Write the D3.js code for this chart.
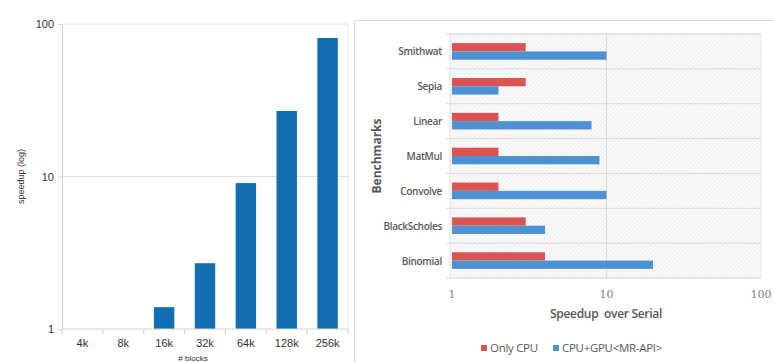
<!DOCTYPE html>
<html>
<head>
<meta charset="utf-8">
<script src="https://cdn.jsdelivr.net/npm/d3@7"></script>
<style>
  body { margin: 0; background: #fff; }
  svg { display: block; }
</style>
</head>
<body>
<figure id="speedups" style="margin:0"></figure>
<script>
// ---- data: left chart (speedup vs blocks)
var blockSizes = ["4k", "8k", "16k", "32k", "64k", "128k", "256k"];
var blockSpeedup = [1, 1, 1.39, 2.7, 9.05, 26.9, 81];

// ---- data: right chart (benchmarks)
var benchmarks = ["Smithwat", "Sepia", "Linear", "MatMul", "Convolve", "BlackScholes", "Binomial"];
var onlyCpu = [3, 3, 2, 2, 2, 3, 4];
var cpuGpu = [10, 2, 8, 9, 10, 4, 20];
var seriesNames = ["Only CPU", "CPU+GPU<MR-API>"];
var seriesColors = ["#dc5452", "#4c92d3"];
var logTicks = [1, 10, 100];

var W = 773, H = 362;
var svg = d3.select("figure#speedups")
  .append("svg")
  .attr("width", W)
  .attr("height", H);

// ================= left chart =================
var m1 = {left: 62, right: 348, top: 24, bottom: 329};
var x1 = d3.scaleBand()
  .domain(blockSizes)
  .range([m1.left, m1.right])
  .paddingInner(0.5)
  .paddingOuter(0.25);
var y1 = d3.scaleLog()
  .domain([1, 100])
  .range([m1.bottom, m1.top]);

var left = svg.append("g");

// gridlines
left.append("g")
  .selectAll("line")
  .data([10, 100])
  .enter().append("line")
  .attr("x1", m1.left).attr("x2", m1.right)
  .attr("y1", d => y1(d)).attr("y2", d => y1(d))
  .attr("stroke", "#e0e0e0");
// right border of plot box
left.append("line")
  .attr("x1", m1.right).attr("x2", m1.right)
  .attr("y1", m1.top).attr("y2", m1.bottom)
  .attr("stroke", "#e6e6e6");

left.selectAll("rect")
  .data(blockSpeedup)
  .enter().append("rect")
  .attr("x", (d, i) => x1(blockSizes[i]))
  .attr("y", d => y1(d))
  .attr("width", x1.bandwidth())
  .attr("height", d => y1(1) - y1(d))
  .attr("fill", "#106eb1");

// y axis
left.append("g")
  .attr("transform", "translate(" + m1.left + ",0)")
  .call(d3.axisLeft(y1).tickValues(logTicks).tickFormat(d3.format("d")).tickSize(4).tickPadding(4))
  .call(g => g.selectAll("line, path").attr("stroke", "#d4d4d4"))
  .call(g => g.selectAll("text").attr("fill", "#333").style("font", "11px 'Liberation Sans', Arial, sans-serif"));

// x axis (band boundary ticks)
var xAx = left.append("g")
  .attr("transform", "translate(0," + m1.bottom + ")");
xAx.append("line")
  .attr("x1", m1.left).attr("x2", m1.right)
  .attr("stroke", "#d4d4d4");
var step = x1.step();
xAx.selectAll("line.sep")
  .data(d3.range(blockSizes.length + 1))
  .enter().append("line")
  .attr("class", "sep")
  .attr("x1", i => m1.left + i * step).attr("x2", i => m1.left + i * step)
  .attr("y1", 0).attr("y2", 5)
  .attr("stroke", "#d4d4d4");
xAx.selectAll("text")
  .data(blockSizes)
  .enter().append("text")
  .attr("x", d => x1(d) + x1.bandwidth() / 2)
  .attr("y", 18)
  .attr("text-anchor", "middle")
  .attr("fill", "#333")
  .style("font", "11px 'Liberation Sans', Arial, sans-serif")
  .text(d => d);

left.append("text")
  .attr("transform", "translate(24," + ((m1.top + m1.bottom) / 2) + ") rotate(-90)")
  .attr("text-anchor", "middle")
  .attr("fill", "#333")
  .style("font", "9px 'Liberation Sans', Arial, sans-serif")
  .text("speedup (log)");
left.append("text")
  .attr("x", 193).attr("y", 361)
  .attr("text-anchor", "middle")
  .attr("fill", "#333")
  .style("font", "8px 'Liberation Sans', Arial, sans-serif")
  .text("# blocks");

// ================= right chart =================
// panel frame
svg.append("path")
  .attr("d", "M354.5," + H + "V20.5H" + W)
  .attr("fill", "none")
  .attr("stroke", "#d9d9d9");

var m2 = {left: 452, right: 761, top: 34, bottom: 278};
var x2 = d3.scaleLog()
  .domain([1, 100])
  .range([m2.left, m2.right]);
var y2 = d3.scaleBand()
  .domain(benchmarks)
  .range([m2.top, m2.bottom]);
var yInner = d3.scaleBand()
  .domain(seriesNames)
  .range([0, y2.bandwidth()])
  .paddingInner(0)
  .paddingOuter(1.1);

var defs = svg.append("defs");
var pat = defs.append("pattern")
  .attr("id", "hatch")
  .attr("patternUnits", "userSpaceOnUse")
  .attr("width", 3).attr("height", 3)
  .attr("patternTransform", "rotate(45)");
pat.append("rect").attr("width", 3).attr("height", 3).attr("fill", "#fafafa");
pat.append("line")
  .attr("x1", 0).attr("y1", 0).attr("x2", 0).attr("y2", 3)
  .attr("stroke", "#e2e2e2").attr("stroke-width", 1);

var right = svg.append("g");
right.append("rect")
  .attr("x", m2.left - 2).attr("y", m2.top)
  .attr("width", m2.right - m2.left + 2).attr("height", m2.bottom - m2.top)
  .attr("fill", "url(#hatch)")
  .attr("stroke", "#e4e4e4");

// band boundaries
right.append("g")
  .selectAll("line")
  .data(d3.range(benchmarks.length + 1))
  .enter().append("line")
  .attr("x1", m2.left - 6).attr("x2", m2.right)
  .attr("y1", i => m2.top + i * y2.step()).attr("y2", i => m2.top + i * y2.step())
  .attr("stroke", "#dcdcdc");
// vertical grid at 10
right.append("line")
  .attr("x1", x2(10)).attr("x2", x2(10))
  .attr("y1", m2.top).attr("y2", m2.bottom)
  .attr("stroke", "#dcdcdc");

var series = [onlyCpu, cpuGpu];
series.forEach(function(vals, s) {
  right.append("g")
    .selectAll("rect")
    .data(vals)
    .enter().append("rect")
    .attr("x", x2(1))
    .attr("y", (d, i) => y2(benchmarks[i]) + yInner(seriesNames[s]))
    .attr("width", d => x2(d) - x2(1))
    .attr("height", yInner.bandwidth())
    .attr("fill", seriesColors[s]);
});

right.append("g")
  .selectAll("text")
  .data(benchmarks)
  .enter().append("text")
  .attr("x", 442)
  .attr("y", d => y2(d) + y2.bandwidth() / 2 + 4)
  .attr("text-anchor", "end")
  .attr("fill", "#595959")
  .style("font", "600 10px 'Open Sans', 'Liberation Sans', sans-serif")
  .style("letter-spacing", "-0.3px")
  .text(d => d);

right.append("g")
  .selectAll("text")
  .data(logTicks)
  .enter().append("text")
  .attr("x", d => x2(d))
  .attr("y", 298)
  .attr("text-anchor", "middle")
  .attr("fill", "#7f7f7f")
  .style("font", "11px 'DejaVu Serif', serif")
  .text(d => d);

right.append("text")
  .attr("x", 606).attr("y", 318)
  .attr("text-anchor", "middle")
  .attr("fill", "#595959")
  .style("font", "600 12px 'Open Sans', 'Liberation Sans', sans-serif")
  .style("letter-spacing", "-0.3px")
  .style("white-space", "pre")
  .text("Speedup  over Serial");

right.append("text")
  .attr("transform", "translate(381," + ((m2.top + m2.bottom) / 2) + ") rotate(-90)")
  .attr("text-anchor", "middle")
  .attr("fill", "#595959")
  .style("font", "bold 12px 'Open Sans', 'Liberation Sans', sans-serif")
  .text("Benchmarks");

// legend
var legX = [481, 553];
var leg = right.append("g")
  .selectAll("g")
  .data(seriesNames)
  .enter().append("g")
  .attr("transform", (d, i) => "translate(" + legX[i] + ",345)");
leg.append("rect")
  .attr("width", 6).attr("height", 6).attr("y", 0)
  .attr("fill", (d, i) => seriesColors[i]);
leg.append("text")
  .attr("x", 9).attr("y", 7)
  .attr("fill", "#595959")
  .style("font", "11.5px 'Open Sans', 'Liberation Sans', sans-serif")
  .style("letter-spacing", "-0.3px")
  .text(d => d);
</script>
</body>
</html>
